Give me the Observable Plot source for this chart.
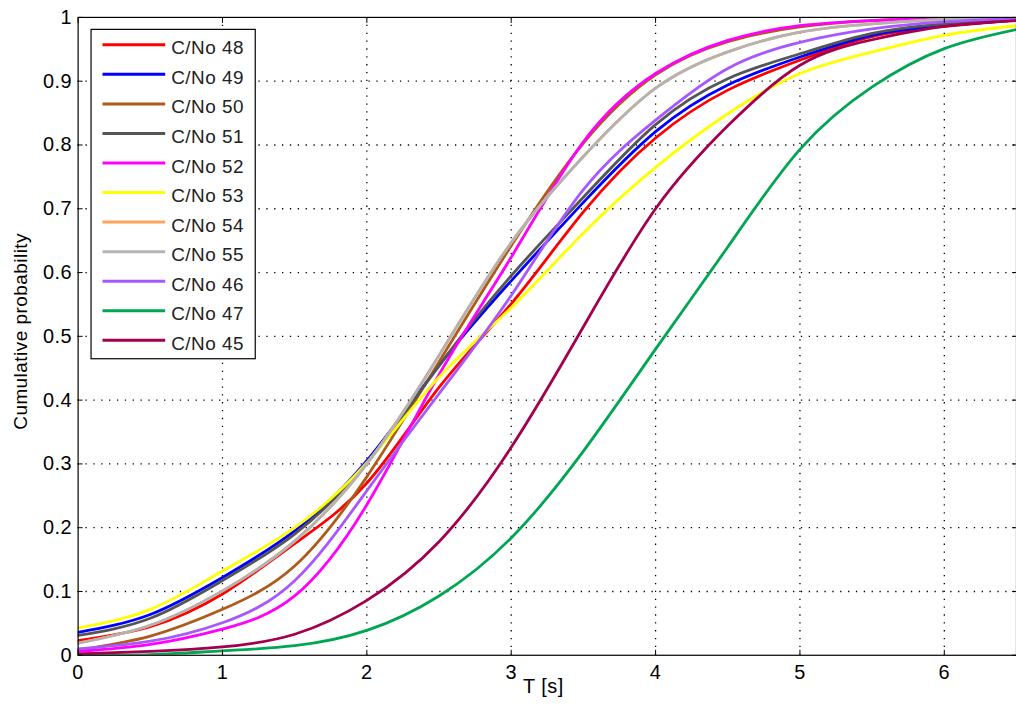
<!DOCTYPE html>
<html><head><meta charset="utf-8">
<script src="https://cdn.jsdelivr.net/npm/d3@7"></script>
<script src="https://cdn.jsdelivr.net/npm/@observablehq/plot@0.6"></script>
<style>
html,body{margin:0;padding:0;background:#fff;}
#chart{width:1016px;height:720px;overflow:hidden;position:relative;}
</style></head><body><div id="chart"></div>
<script>
// ---- data ----
const T = [0, 0.5, 1, 1.5, 2, 2.5, 3, 3.5, 4, 4.5, 5, 5.5, 6, 6.5];
const labels = ["C/No 48","C/No 49","C/No 50","C/No 51","C/No 52","C/No 53","C/No 54","C/No 55","C/No 46","C/No 47","C/No 45"];
const colors = ["#ff0000","#0000ff","#b05a18","#555555","#ff00ff","#ffff00","#ffa35c","#b3b3b3","#a857ff","#00a651","#a3004f"];
const cn48 = [0.023, 0.045, 0.096, 0.175, 0.27, 0.42, 0.551, 0.695, 0.811, 0.886, 0.933, 0.97, 0.986, 0.996];
const cn49 = [0.036, 0.064, 0.122, 0.195, 0.305, 0.454, 0.587, 0.71, 0.821, 0.894, 0.938, 0.972, 0.987, 0.996];
const cn50 = [0.008, 0.03, 0.072, 0.14, 0.28, 0.46, 0.642, 0.803, 0.91, 0.962, 0.985, 0.995, 0.998, 1];
const cn51 = [0.031, 0.058, 0.117, 0.19, 0.302, 0.454, 0.595, 0.718, 0.832, 0.904, 0.943, 0.975, 0.99, 0.998];
const cn52 = [0.006, 0.017, 0.041, 0.093, 0.236, 0.44, 0.624, 0.805, 0.912, 0.964, 0.987, 0.995, 0.999, 1];
const cn53 = [0.043, 0.072, 0.132, 0.2, 0.302, 0.436, 0.545, 0.662, 0.765, 0.849, 0.912, 0.946, 0.972, 0.987];
const cn54 = [0.019, 0.047, 0.101, 0.179, 0.30, 0.47, 0.647, 0.782, 0.889, 0.946, 0.977, 0.99, 0.997, 1];
const cn55 = [0.019, 0.047, 0.101, 0.179, 0.30, 0.47, 0.647, 0.782, 0.889, 0.946, 0.977, 0.99, 0.997, 1];
const cn46 = [0.01, 0.022, 0.051, 0.117, 0.258, 0.41, 0.564, 0.73, 0.839, 0.92, 0.961, 0.982, 0.993, 0.998];
const cn47 = [0, 0.001, 0.007, 0.015, 0.039, 0.093, 0.184, 0.32, 0.48, 0.64, 0.793, 0.891, 0.951, 0.981];
const cn45 = [0.002, 0.006, 0.013, 0.033, 0.086, 0.178, 0.326, 0.515, 0.70, 0.83, 0.925, 0.965, 0.986, 0.995];
const series = [cn48, cn49, cn50, cn51, cn52, cn53, cn54, cn55, cn46, cn47, cn45];
const xTicks = [0, 1, 2, 3, 4, 5, 6];
const xTickLabels = ["0","1","2","3","4","5","6"];
const yTicks = [0, 0.1, 0.2, 0.3, 0.4, 0.5, 0.6, 0.7, 0.8, 0.9, 1];
const yTickLabels = ["0","0.1","0.2","0.3","0.4","0.5","0.6","0.7","0.8","0.9","1"];
const xTitle = "T [s]";
const yTitle = "Cumulative probability";

// ---- build table ----
const rows = [];
labels.forEach((name, i) => series[i].forEach((v, j) => rows.push({name, t: T[j], p: v})));

const font = "'Liberation Sans', Arial, Helvetica, sans-serif";
const dots = {stroke: "#000", strokeOpacity: 1, strokeWidth: 1.3, strokeDasharray: "1.3,6.6"};

const plot = Plot.plot({
  width: 1021, height: 720,
  marginLeft: 78, marginRight: 0, marginTop: 17, marginBottom: 62,
  style: {fontFamily: font, fontSize: "20px", letterSpacing: "0.5px", color: "#000", background: "#fff", overflow: "visible"},
  x: {domain: [0, 6.5], label: null},
  y: {domain: [0, 1], label: null},
  color: {domain: labels, range: colors},
  marks: [
    Plot.gridX(xTicks.slice(1), dots),
    Plot.gridY(yTicks.slice(1, -1), dots),
    Plot.line(rows, {x: "t", y: "p", z: "name", stroke: "name", strokeWidth: 2.8, curve: "natural", clip: true}),
    Plot.frame({stroke: "#000", strokeWidth: 1.2}),
    Plot.axisX(xTicks, {tickSize: 0, tickPadding: 10, tickFormat: d => xTickLabels[xTicks.indexOf(d)], label: null}),
    Plot.axisX(xTicks, {tickSize: -5, tickFormat: () => "", label: null}),
    Plot.axisX(xTicks, {anchor: "top", tickSize: -5, tickFormat: () => "", label: null}),
    Plot.axisY(yTicks, {tickSize: 0, tickPadding: 6, tickFormat: d => yTickLabels[yTicks.indexOf(d)], label: null}),
    Plot.axisY(yTicks, {tickSize: -5, tickFormat: () => "", label: null}),
    Plot.axisY(yTicks, {anchor: "right", tickSize: -5, tickFormat: () => "", label: null}),
    Plot.text([yTitle], {frameAnchor: "left", textAnchor: "middle", rotate: -90, dx: -57, dy: -5, text: d => d, fontSize: 19, fill: "#000", letterSpacing: "0px"}),
    Plot.text([xTitle], {frameAnchor: "bottom", textAnchor: "middle", lineAnchor: "top", dy: 24, dx: -4, text: d => d, fontSize: 20, fill: "#000"})
  ]
});

// ---- legend ----
const svg = d3.select(plot);
const lg = svg.append("g").attr("font-family", font).attr("font-size", 19).attr("text-anchor", "start");
lg.append("rect").attr("x", 91.5).attr("y", 29.5).attr("width", 165).attr("height", 331)
  .attr("fill", "#fff").attr("stroke", "#000").attr("stroke-width", 1.2);
labels.forEach((name, i) => {
  const y = 45 + i * 29.7;
  lg.append("line").attr("x1", 103).attr("x2", 166).attr("y1", y).attr("y2", y)
    .attr("stroke", colors[i]).attr("stroke-width", 3);
  lg.append("text").attr("x", 172).attr("y", y + 3).attr("dy", "0.35em").attr("fill", "#222").text(name);
});

document.getElementById("chart").appendChild(plot);
</script></body></html>
